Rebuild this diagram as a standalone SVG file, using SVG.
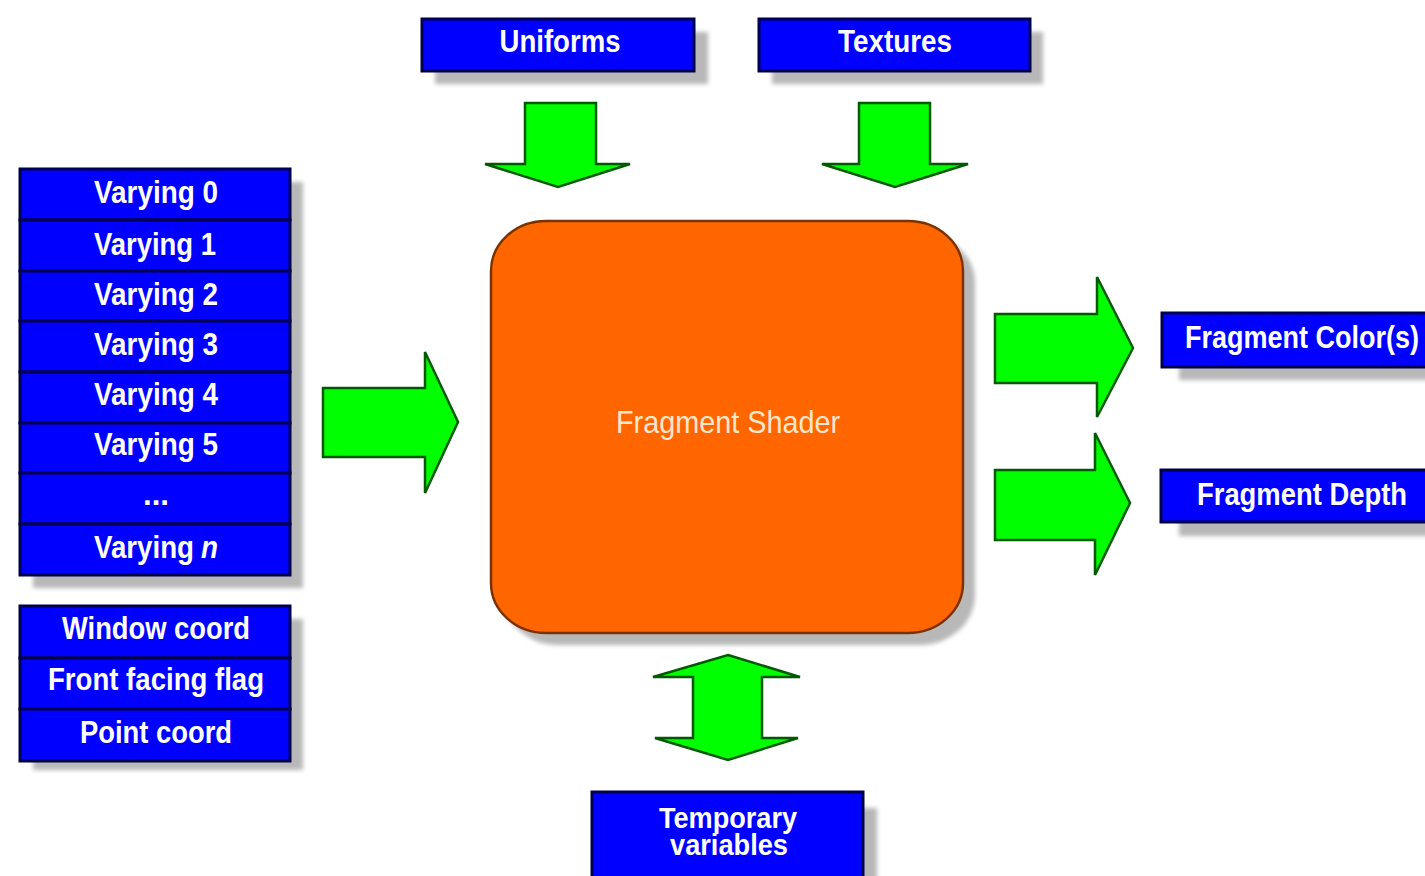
<svg xmlns="http://www.w3.org/2000/svg" width="1425" height="876" viewBox="0 0 1425 876">
<style>
.box{fill:#0000ff;stroke:#00004d;stroke-width:3}
.sh{fill:#b8b8b8;filter:url(#blur)}
.lbl{font-family:"Liberation Sans",Arial,sans-serif;font-weight:bold;font-size:32px;fill:#ffffff;text-anchor:middle}
.arr{fill:#00ff00;stroke:#005a00;stroke-width:2.5;stroke-linejoin:miter}
.main{fill:#ff6600;stroke:#7a3300;stroke-width:2.5}
.mlbl{font-family:"Liberation Sans",Arial,sans-serif;font-size:32px;fill:#ffe6cc;text-anchor:middle}
</style>
<defs>
<filter id="blur" x="-10%" y="-10%" width="120%" height="120%"><feGaussianBlur stdDeviation="2"/></filter>
</defs>
<rect width="1425" height="876" fill="#ffffff"/>

<!-- shadows -->
<rect class="sh" x="33" y="182" width="270" height="406"/>
<rect class="sh" x="33" y="619" width="270" height="151"/>
<rect class="sh" x="435" y="32" width="273" height="52"/>
<rect class="sh" x="772" y="32" width="271" height="52"/>
<rect class="sh" x="1179" y="326" width="260" height="54"/>
<rect class="sh" x="1179" y="483" width="260" height="53"/>
<rect class="sh" x="605" y="808" width="272" height="80"/>
<rect class="sh" x="503" y="233" width="472" height="412" rx="55" ry="50"/>

<g id="connectors">
<polygon class="arr" points="525,103 596,103 596,164 630,164 558,187 485,164 525,164"/>
<polygon class="arr" points="859,103 930,103 930,164 968,164 895,187 822,164 859,164"/>
<polygon class="arr" points="323,388 425,388 425,352 458,422 425,493 425,457 323,457"/>
<polygon class="arr" points="995,314 1097,314 1097,277 1133,348 1097,417 1097,383 995,383"/>
<polygon class="arr" points="995,470 1095,470 1095,433 1130,503 1095,575 1095,540 995,540"/>
<polygon class="arr" points="728,655 800,677 762,677 762,738 798,738 728,760 655,738 693,738 693,677 653,677"/>
</g>

<g id="varyings">
<g id="varying0"><rect class="box" x="20" y="169" width="270" height="51"/><text class="lbl" x="156" y="203" textLength="124" lengthAdjust="spacingAndGlyphs">Varying 0</text></g>
<g id="varying1"><rect class="box" x="20" y="220" width="270" height="51"/><text class="lbl" x="155" y="255" textLength="122" lengthAdjust="spacingAndGlyphs">Varying 1</text></g>
<g id="varying2"><rect class="box" x="20" y="271" width="270" height="50"/><text class="lbl" x="156" y="305" textLength="124" lengthAdjust="spacingAndGlyphs">Varying 2</text></g>
<g id="varying3"><rect class="box" x="20" y="321" width="270" height="51"/><text class="lbl" x="156" y="355" textLength="124" lengthAdjust="spacingAndGlyphs">Varying 3</text></g>
<g id="varying4"><rect class="box" x="20" y="372" width="270" height="51"/><text class="lbl" x="156" y="405" textLength="124" lengthAdjust="spacingAndGlyphs">Varying 4</text></g>
<g id="varying5"><rect class="box" x="20" y="423" width="270" height="50"/><text class="lbl" x="156" y="455" textLength="124" lengthAdjust="spacingAndGlyphs">Varying 5</text></g>
<g id="varyingdots"><rect class="box" x="20" y="473" width="270" height="51"/><text class="lbl" x="156" y="505" textLength="26" lengthAdjust="spacingAndGlyphs">...</text></g>
<g id="varyingn"><rect class="box" x="20" y="524" width="270" height="51"/><text class="lbl" x="94" y="558" style="text-anchor:start" textLength="100" lengthAdjust="spacingAndGlyphs">Varying</text><text class="lbl" x="201" y="558" style="text-anchor:start;font-style:italic" textLength="17" lengthAdjust="spacingAndGlyphs">n</text></g>
</g>

<g id="builtins">
<g id="windowcoord"><rect class="box" x="20" y="606" width="270" height="52"/><text class="lbl" x="156" y="639" textLength="188" lengthAdjust="spacingAndGlyphs">Window coord</text></g>
<g id="frontfacing"><rect class="box" x="20" y="658" width="270" height="51"/><text class="lbl" x="156" y="690" textLength="216" lengthAdjust="spacingAndGlyphs">Front facing flag</text></g>
<g id="pointcoord"><rect class="box" x="20" y="709" width="270" height="52"/><text class="lbl" x="156" y="743" textLength="152" lengthAdjust="spacingAndGlyphs">Point coord</text></g>
</g>

<g id="uniforms"><rect class="box" x="422" y="19" width="272" height="52"/><text class="lbl" x="560" y="52" textLength="121" lengthAdjust="spacingAndGlyphs">Uniforms</text></g>
<g id="textures"><rect class="box" x="759" y="19" width="271" height="52"/><text class="lbl" x="895" y="52" textLength="114" lengthAdjust="spacingAndGlyphs">Textures</text></g>

<g id="shader"><rect class="main" x="491" y="221" width="472" height="412" rx="55" ry="50"/><text class="mlbl" x="728" y="433" textLength="224" lengthAdjust="spacingAndGlyphs">Fragment Shader</text></g>

<g id="fragcolor"><rect class="box" x="1162" y="313" width="280" height="54"/><text class="lbl" x="1302" y="348" textLength="234" lengthAdjust="spacingAndGlyphs">Fragment Color(s)</text></g>
<g id="fragdepth"><rect class="box" x="1161" y="470" width="280" height="52"/><text class="lbl" x="1302" y="505" textLength="210" lengthAdjust="spacingAndGlyphs">Fragment Depth</text></g>

<g id="temporaries"><rect class="box" x="592" y="792" width="271" height="96"/><text class="lbl" x="728" y="828" style="font-size:30px" textLength="138" lengthAdjust="spacingAndGlyphs">Temporary</text><text class="lbl" x="729" y="855" style="font-size:30px" textLength="118" lengthAdjust="spacingAndGlyphs">variables</text></g>
</svg>
